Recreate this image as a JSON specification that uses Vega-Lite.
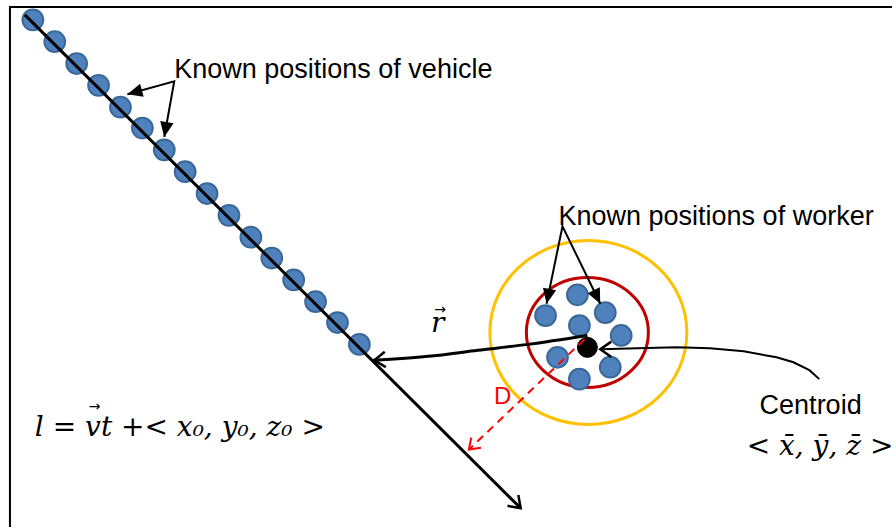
{
  "$schema": "https://vega.github.io/schema/vega-lite/v6.json",
  "width": 896,
  "height": 531,
  "autosize": {"type": "fit", "contains": "padding"},
  "padding": 0,
  "background": "white",
  "config": {"view": {"stroke": null}},
  "datasets": {
    "vehicle": [
      {"x": 33, "y": 20}, {"x": 55, "y": 42}, {"x": 77, "y": 64}, {"x": 99, "y": 86},
      {"x": 121, "y": 108}, {"x": 143, "y": 129}, {"x": 165, "y": 151}, {"x": 186, "y": 173},
      {"x": 208, "y": 195}, {"x": 230, "y": 217}, {"x": 252, "y": 239}, {"x": 273, "y": 260},
      {"x": 295, "y": 282}, {"x": 317, "y": 304}, {"x": 339, "y": 325}, {"x": 361, "y": 347}
    ],
    "worker": [
      {"x": 548, "y": 318}, {"x": 580, "y": 297}, {"x": 608, "y": 315}, {"x": 582, "y": 328},
      {"x": 624, "y": 338}, {"x": 560, "y": 360}, {"x": 613, "y": 370}, {"x": 582, "y": 382}
    ],
    "thick": [
      {"path": "trajectory", "i": 0, "x": 25, "y": 15},
      {"path": "trajectory", "i": 1, "x": 523, "y": 512},
      {"path": "r", "i": 0, "x": 375, "y": 363},
      {"path": "r", "i": 1, "x": 430, "y": 359},
      {"path": "r", "i": 2, "x": 480, "y": 353},
      {"path": "r", "i": 3, "x": 530, "y": 347},
      {"path": "r", "i": 4, "x": 590, "y": 338}
    ],
    "thin": [
      {"path": "frame", "i": 0, "x": 10, "y": 531},
      {"path": "frame", "i": 1, "x": 10, "y": 7},
      {"path": "frame", "i": 2, "x": 896, "y": 7},
      {"path": "vlabel", "i": 0, "x": 128, "y": 95},
      {"path": "vlabel", "i": 1, "x": 175, "y": 82},
      {"path": "vlabel", "i": 2, "x": 165, "y": 138},
      {"path": "wlabel", "i": 0, "x": 549, "y": 306},
      {"path": "wlabel", "i": 1, "x": 565, "y": 228},
      {"path": "wlabel", "i": 2, "x": 603, "y": 306},
      {"path": "centroid", "i": 0, "x": 823, "y": 382},
      {"path": "centroid", "i": 1, "x": 813, "y": 373},
      {"path": "centroid", "i": 2, "x": 797, "y": 365},
      {"path": "centroid", "i": 3, "x": 780, "y": 360},
      {"path": "centroid", "i": 4, "x": 747, "y": 354},
      {"path": "centroid", "i": 5, "x": 713, "y": 351},
      {"path": "centroid", "i": 6, "x": 680, "y": 350},
      {"path": "centroid", "i": 7, "x": 640, "y": 351},
      {"path": "centroid", "i": 8, "x": 604, "y": 352}
    ],
    "dist": [
      {"i": 0, "x": 587, "y": 342},
      {"i": 1, "x": 471, "y": 453}
    ],
    "filledHeads": [
      {"x": 128, "y": 95, "heading": 164.5},
      {"x": 165, "y": 138, "heading": 100},
      {"x": 549, "y": 306, "heading": 101.6},
      {"x": 603, "y": 306, "heading": 64}
    ],
    "openHeads": [
      {"x": 376, "y": 363, "heading": 176},
      {"x": 603, "y": 352, "heading": 180},
      {"x": 523, "y": 512, "heading": 45}
    ],
    "redHeads": [
      {"x": 471, "y": 453, "heading": 136}
    ],
    "sansLabels": [
      {"x": 175, "y": 79, "label": "Known positions of vehicle"},
      {"x": 561, "y": 227, "label": "Known positions of worker"},
      {"x": 763, "y": 417, "label": "Centroid"}
    ],
    "mathLabels": [
      {"x": 35, "y": 439, "label": "l = vt +< x₀, y₀, z₀ >"},
      {"x": 750, "y": 458, "label": "< x̄, ȳ, z̄ >"},
      {"x": 433, "y": 335, "label": "r"}
    ],
    "vecArrows": [
      {"x": 95, "y": 414, "label": "→"},
      {"x": 442, "y": 316, "label": "→"}
    ],
    "redLabels": [
      {"x": 505, "y": 407, "label": "D"}
    ]
  },
  "encoding": {
    "x": {"field": "x", "type": "quantitative", "scale": {"domain": [0, 896], "nice": false, "zero": false}, "axis": null},
    "y": {"field": "y", "type": "quantitative", "scale": {"domain": [0, 531], "nice": false, "zero": false, "reverse": true}, "axis": null}
  },
  "layer": [
    {
      "data": {"values": [{"x": 591, "y": 335}]},
      "mark": {"type": "point", "shape": "M1,0C1,0.516 0.552,0.934 0,0.934C-0.552,0.934 -1,0.516 -1,0C-1,-0.516 -0.552,-0.934 0,-0.934C0.552,-0.934 1,-0.516 1,0Z", "size": 38809, "filled": false, "stroke": "#FFC000", "strokeWidth": 3, "opacity": 1}
    },
    {
      "data": {"values": [{"x": 590, "y": 335}]},
      "mark": {"type": "point", "shape": "M1,0C1,0.497 0.552,0.9 0,0.9C-0.552,0.9 -1,0.497 -1,0C-1,-0.497 -0.552,-0.9 0,-0.9C0.552,-0.9 1,-0.497 1,0Z", "size": 14884, "filled": false, "stroke": "#C00000", "strokeWidth": 3, "opacity": 1}
    },
    {
      "data": {"name": "vehicle"},
      "mark": {"type": "point", "shape": "circle", "size": 430, "filled": true, "fill": "#4F81BD", "stroke": "#3A6898", "strokeWidth": 2, "opacity": 1}
    },
    {
      "data": {"name": "worker"},
      "mark": {"type": "point", "shape": "circle", "size": 430, "filled": true, "fill": "#4F81BD", "stroke": "#3A6898", "strokeWidth": 2, "opacity": 1}
    },
    {
      "data": {"values": [{"x": 590, "y": 350}]},
      "mark": {"type": "point", "shape": "circle", "size": 400, "filled": true, "fill": "black", "stroke": "black", "strokeWidth": 1, "opacity": 1}
    },
    {
      "data": {"name": "thick"},
      "mark": {"type": "line", "stroke": "black", "strokeWidth": 3, "interpolate": "monotone"},
      "encoding": {"detail": {"field": "path"}, "order": {"field": "i"}}
    },
    {
      "data": {"name": "thin"},
      "mark": {"type": "line", "stroke": "black", "strokeWidth": 2},
      "encoding": {"detail": {"field": "path"}, "order": {"field": "i"}}
    },
    {
      "data": {"name": "dist"},
      "mark": {"type": "line", "stroke": "#FF0000", "strokeWidth": 2, "strokeDash": [8, 6]},
      "encoding": {"order": {"field": "i"}}
    },
    {
      "data": {"name": "filledHeads"},
      "mark": {"type": "point", "shape": "M0,0L-1,-0.45L-1,0.45Z", "size": 900, "filled": true, "fill": "black", "strokeWidth": 0, "opacity": 1},
      "encoding": {"angle": {"field": "heading", "type": "quantitative", "scale": null}}
    },
    {
      "data": {"name": "openHeads"},
      "mark": {"type": "point", "shape": "M-1,-0.7L0,0L-1,0.7", "size": 484, "filled": false, "stroke": "black", "strokeWidth": 2.5, "opacity": 1},
      "encoding": {"angle": {"field": "heading", "type": "quantitative", "scale": null}}
    },
    {
      "data": {"name": "redHeads"},
      "mark": {"type": "point", "shape": "M-1,-0.7L0,0L-1,0.7", "size": 400, "filled": false, "stroke": "#FF0000", "strokeWidth": 2, "opacity": 1},
      "encoding": {"angle": {"field": "heading", "type": "quantitative", "scale": null}}
    },
    {
      "data": {"name": "sansLabels"},
      "mark": {"type": "text", "align": "left", "baseline": "alphabetic", "font": "Liberation Sans", "fontSize": 27, "color": "black"},
      "encoding": {"text": {"field": "label"}}
    },
    {
      "data": {"name": "mathLabels"},
      "mark": {"type": "text", "align": "left", "baseline": "alphabetic", "font": "DejaVu Serif", "fontStyle": "italic", "fontSize": 28, "color": "black"},
      "encoding": {"text": {"field": "label"}}
    },
    {
      "data": {"name": "vecArrows"},
      "mark": {"type": "text", "align": "center", "baseline": "alphabetic", "font": "DejaVu Sans", "fontSize": 14, "color": "black"},
      "encoding": {"text": {"field": "label"}}
    },
    {
      "data": {"name": "redLabels"},
      "mark": {"type": "text", "align": "center", "baseline": "alphabetic", "font": "Liberation Sans", "fontSize": 24, "color": "#FF0000"},
      "encoding": {"text": {"field": "label"}}
    }
  ]
}
